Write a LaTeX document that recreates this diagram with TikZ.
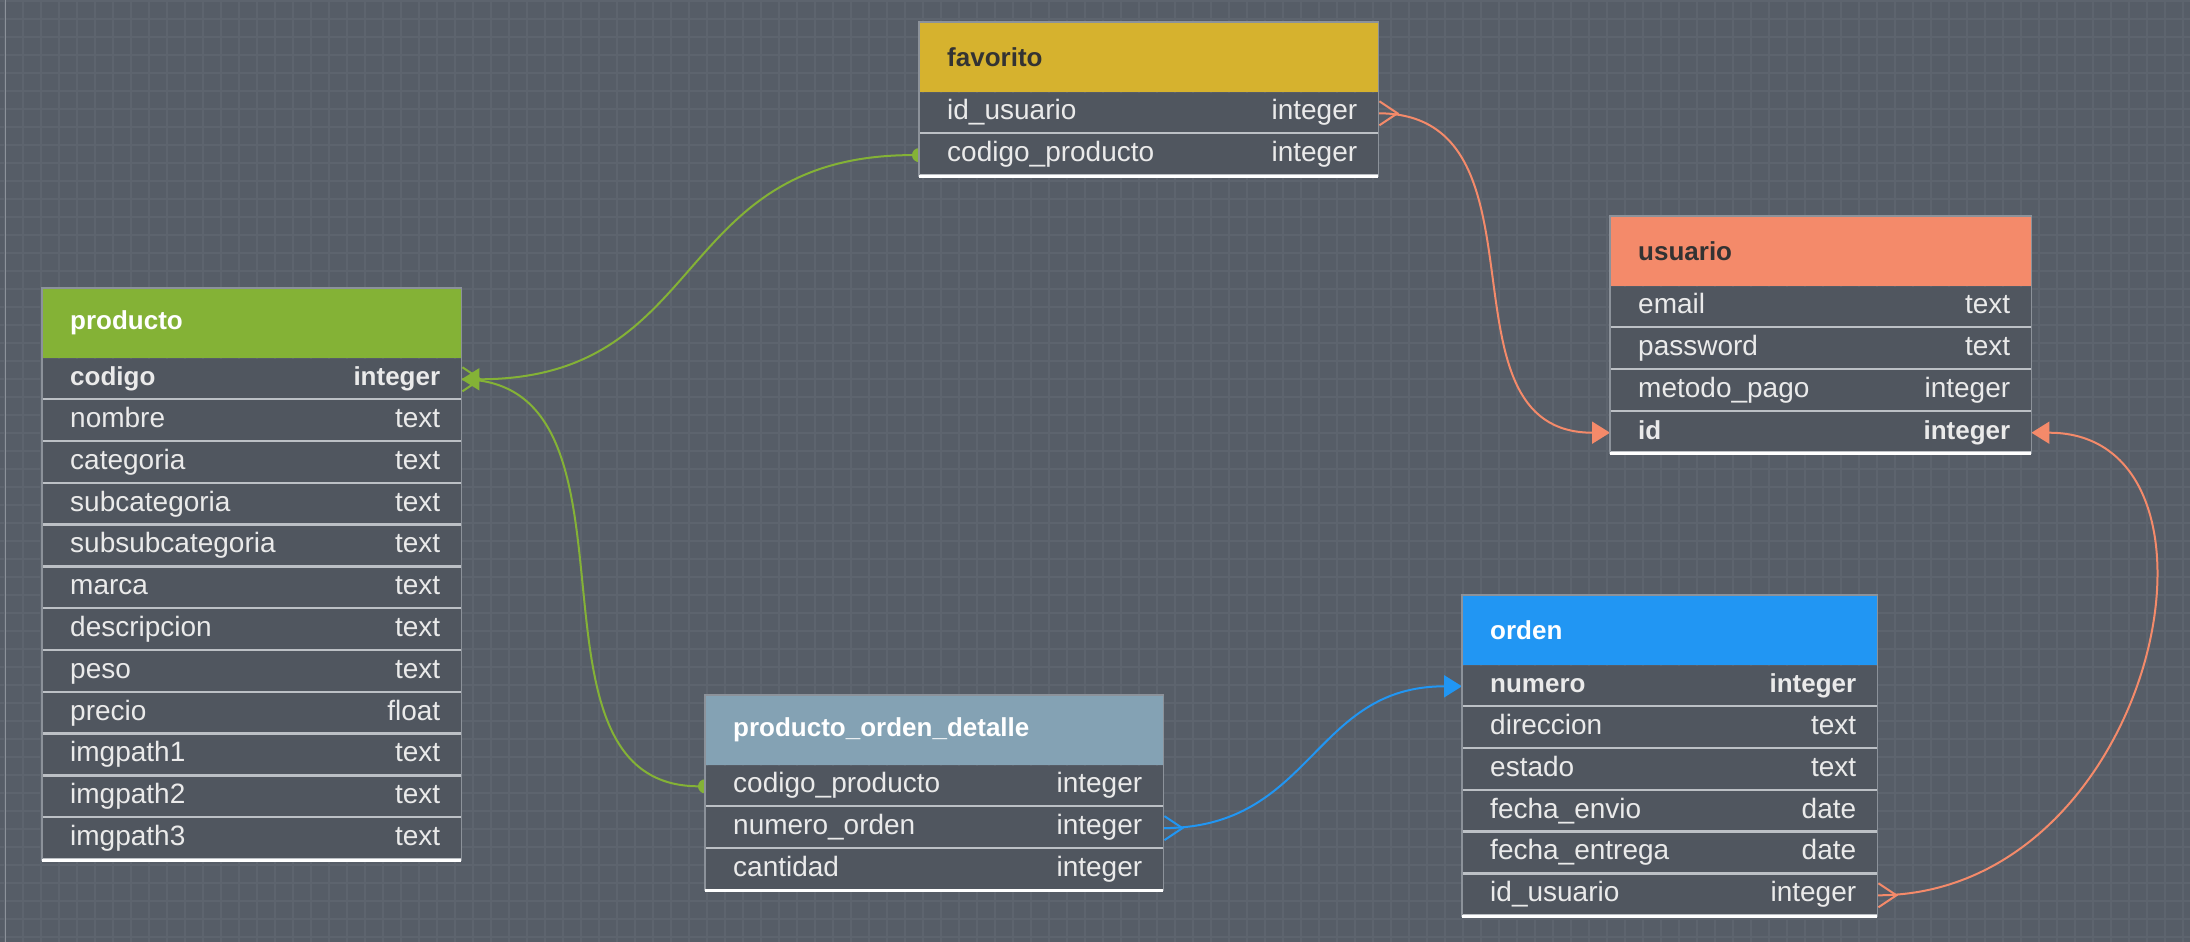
\documentclass[tikz,border=0pt]{standalone}
\usepackage{fontspec}
\setmainfont{Liberation Sans}
\usetikzlibrary{positioning,arrows.meta,backgrounds}

\definecolor{canvas}{RGB}{86,93,103}
\definecolor{gridc}{RGB}{93,100,110}
\definecolor{rowfill}{RGB}{80,86,95}
\definecolor{sepc}{RGB}{188,192,197}
\definecolor{edgec}{RGB}{140,146,154}
\definecolor{rowtext}{RGB}{234,234,234}
\definecolor{darktitle}{RGB}{51,51,51}
\definecolor{favcol}{RGB}{214,178,46}
\definecolor{usucol}{RGB}{244,138,106}
\definecolor{prodcol}{RGB}{132,178,54}
\definecolor{podcol}{RGB}{132,162,180}
\definecolor{ordcol}{RGB}{33,150,243}

\newcommand\tblrow[2]{\hspace*{7pt}#1\hfill#2\strut}
\newcommand\tblkey[2]{\fontsize{26}{32}\selectfont\bfseries\hspace*{7pt}#1\hfill#2\strut}

\tikzset{
  hdr/.style={rectangle, anchor=north west, inner xsep=28pt, inner ysep=0pt,
    minimum height=70pt, text width=#1, align=left,
    font=\fontsize{26}{30}\selectfont\bfseries},
  fld/.style={rectangle, fill=rowfill, inner xsep=21pt, inner ysep=0pt,
    minimum height=41.4pt, text width=#1, align=left, text=rowtext,
    font=\fontsize{28}{32}\selectfont,
    path picture={\draw[sepc, line width=4pt] (path picture bounding box.south west) -- (path picture bounding box.south east);}},
  tbledge/.style={draw=edgec, line width=1.2pt},
  tblfoot/.style={draw=white, line width=3pt},
  gridln/.style={gridc, line width=2pt},
  link/.style={line width=2pt},
  crow/.tip={Straight Barb[reversed, length=18pt, width=24pt]},
  dot/.tip={Circle[length=14pt]},
  tri/.tip={Triangle[length=18pt, width=22pt]}
}

\begin{document}
\begin{tikzpicture}[x=1pt,y=-1pt]
\useasboundingbox (0,0) rectangle (2190,942);

% favorito
\node[hdr=403, fill=favcol, text=darktitle] (f-0) at (919,22) {favorito};
\node[fld=417, below=0pt of f-0] (f-1) {\tblrow{id\_usuario}{integer}};
\node[fld=417, below=0pt of f-1] (f-2) {\tblrow{codigo\_producto}{integer}};
\draw[tbledge] (f-0.north west) rectangle (f-2.south east);
\draw[tblfoot] (f-2.south west) -- (f-2.south east);

% usuario
\node[hdr=365, fill=usucol, text=darktitle] (u-0) at (1610,216) {usuario};
\foreach \n/\t [count=\i from 1, remember=\i as \j (initially 0)] in {email/text, password/text, metodo\_pago/integer}
  \node[fld=379, below=0pt of u-\j] (u-\i) {\tblrow{\n}{\t}};
\node[fld=379, below=0pt of u-3] (u-4) {\tblkey{id}{integer}};
\draw[tbledge] (u-0.north west) rectangle (u-4.south east);
\draw[tblfoot] (u-4.south west) -- (u-4.south east);

% producto
\node[hdr=363, fill=prodcol, text=white] (p-0) at (42,288) {producto};
\node[fld=377, below=0pt of p-0] (p-1) {\tblkey{codigo}{integer}};
\foreach \n/\t [count=\i from 2, remember=\i as \j (initially 1)] in {nombre/text, categoria/text, subcategoria/text, subsubcategoria/text, marca/text, descripcion/text, peso/text, precio/float, imgpath1/text, imgpath2/text, imgpath3/text}
  \node[fld=377, below=0pt of p-\j] (p-\i) {\tblrow{\n}{\t}};
\draw[tbledge] (p-0.north west) rectangle (p-12.south east);
\draw[tblfoot] (p-12.south west) -- (p-12.south east);

% producto_orden_detalle
\node[hdr=402, fill=podcol, text=white] (d-0) at (705,695) {producto\_orden\_detalle};
\foreach \n/\t [count=\i from 1, remember=\i as \j (initially 0)] in {codigo\_producto/integer, numero\_orden/integer, cantidad/integer}
  \node[fld=416, below=0pt of d-\j] (d-\i) {\tblrow{\n}{\t}};
\draw[tbledge] (d-0.north west) rectangle (d-3.south east);
\draw[tblfoot] (d-3.south west) -- (d-3.south east);

% orden
\node[hdr=359, fill=ordcol, text=white] (o-0) at (1462,595) {orden};
\node[fld=373, below=0pt of o-0] (o-1) {\tblkey{numero}{integer}};
\foreach \n/\t [count=\i from 2, remember=\i as \j (initially 1)] in {direccion/text, estado/text, fecha\_envio/date, fecha\_entrega/date, id\_usuario/integer}
  \node[fld=373, below=0pt of o-\j] (o-\i) {\tblrow{\n}{\t}};
\draw[tbledge] (o-0.north west) rectangle (o-6.south east);
\draw[tblfoot] (o-6.south west) -- (o-6.south east);

\begin{scope}[on background layer]
  \fill[canvas] (0,0) rectangle (2190,942);
  \foreach \gx in {4.7,22.7,...,2190} \draw[gridln] (\gx,0) -- (\gx,942);
  \foreach \gy in {1,19,...,942} \draw[gridln] (0,\gy) -- (2190,\gy);
  \draw[edgec, line width=1pt] (5,0) -- (5,942);

  % relations
  \draw[link, prodcol, {dot}-{tri}, shorten <=-7pt] (f-2.west) .. controls +(-250,0) and +(250,0) .. (p-1.east);
  \draw[link, prodcol, {dot}-, shorten <=-7pt] (d-1.west) .. controls +(-200,0) and +(200,0) .. (p-1.east);
  \draw[link, ordcol, -{tri}] (d-2.east) .. controls +(150,0) and +(-150,0) .. (o-1.west);
  \draw[link, usucol, -{tri}] (f-1.east) .. controls +(180,0) and +(-180,0) .. (u-4.west);
  \draw[link, usucol, -{tri}] (o-6.east) .. controls +(280,0) and +(220,0) .. (u-4.east);

  % crow's feet (many side)
  \foreach \a/\c in {p-1.east/prodcol, d-2.east/ordcol, f-1.east/usucol, o-6.east/usucol}
    \draw[link, \c, {crow}-] (\a) -- ++(18,0);
\end{scope}
\end{tikzpicture}
\end{document}
